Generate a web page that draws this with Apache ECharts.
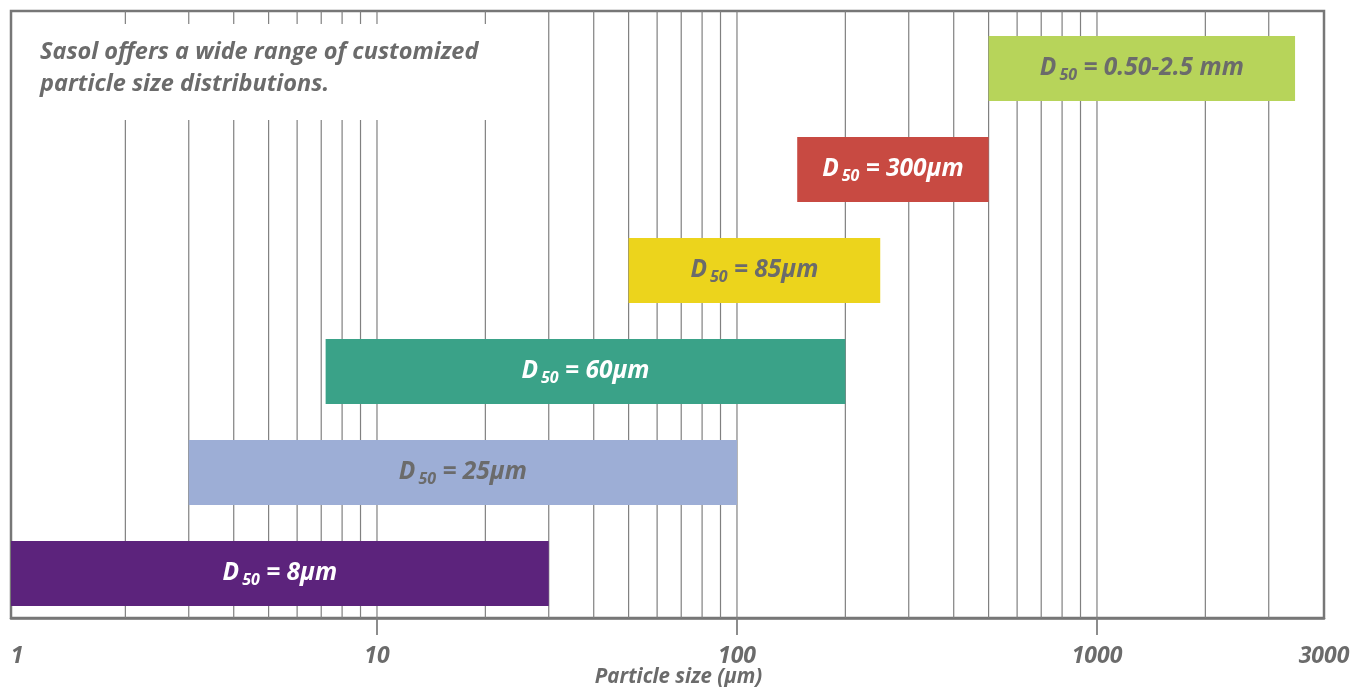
<!DOCTYPE html>
<html><head><meta charset="utf-8">
<script src="https://cdn.jsdelivr.net/npm/echarts@6/dist/echarts.min.js"></script>
<style>html,body{margin:0;padding:0;background:#fff}#c{width:1352px;height:687px}</style>
</head><body><div id="c"></div>
<script>
// ---- data ----
const rangeLabels = ['8µm', '25µm', '60µm', '85µm', '300µm', '0.50-2.5 mm'];
const rangeStart = [0.9624, 3, 7.2, 50, 147, 500];
const rangeEnd = [30, 100, 200, 250, 500, 3550];
const gridValues = [2,3,4,5,6,7,8,9,10,20,30,40,50,60,70,80,90,100,200,300,400,500,600,700,800,900,1000,2000,3000];
const tickValues = [10, 100, 1000];
const labelValues = [1, 10, 100, 1000, 4272];
const labelTexts = ['1', '10', '100', '1000', '3000'];
const titleText = 'Sasol offers a wide range of customized\nparticle size distributions.';
const axisTitle = 'Particle size (µm)';

// ---- styles ----
const barColors = ['#5C237C', '#9DAED6', '#3AA288', '#ECD41C', '#C84A42', '#B7D45A'];
const textColors = ['#ffffff', '#6b6b6b', '#ffffff', '#6b6b6b', '#ffffff', '#6b6b6b'];
const X_MIN = 0.9624, X_MAX = 4272;
const Y_MIN = -0.4406, Y_MAX = 5.569;
const FONT = 'Open Sans';
const GREY = '#6b6b6b';

const chart = echarts.init(document.getElementById('c'));

function richFor(color) {
  const base = { fontFamily: FONT, fontWeight: 'bold', fontStyle: 'italic', fill: color };
  return {
    d: Object.assign({}, base, { fontSize: 24.5 }),
    s: Object.assign({}, base, { fontSize: 16, padding: [13, 0, 0, 3] }),
    t: Object.assign({}, base, { fontSize: 24.5 })
  };
}

const option = {
  animation: false,
  backgroundColor: '#fff',
  title: {
    text: titleText,
    left: 40, top: 36, padding: 0, z: 20,
    textStyle: { fontFamily: FONT, fontSize: 23.5, fontWeight: 'bold', fontStyle: 'italic', color: GREY, lineHeight: 32 }
  },
  graphic: [{
    type: 'rect', left: 13, top: 24, z: 10,
    shape: { width: 505, height: 96 },
    style: { fill: '#ffffff' }
  }],
  grid: {
    left: 11, right: 28, top: 11, bottom: 69,
    outerBoundsMode: 'none', containLabel: false,
    show: true, borderColor: '#777777', borderWidth: 2.5, backgroundColor: 'transparent'
  },
  xAxis: {
    type: 'log', logBase: 10, min: X_MIN, max: X_MAX,
    splitLine: { show: false },
    axisLine: { show: true, onZero: false, lineStyle: { color: '#777777', width: 2.5 } },
    axisTick: { show: true, customValues: tickValues, length: 17, inside: false, lineStyle: { color: '#808080', width: 1.8 } },
    axisLabel: {
      margin: 27,
      fontFamily: FONT, fontSize: 23, fontWeight: 'bold', fontStyle: 'italic', color: GREY,
      formatter: function (v) {
        let best = 0, bd = Infinity;
        labelValues.forEach(function (lv, i) { const d = Math.abs(Math.log10(v) - Math.log10(lv)); if (d < bd) { bd = d; best = i; } });
        return bd < 0.01 ? labelTexts[best] : '';
      }
    },
    name: axisTitle, nameLocation: 'middle', nameGap: 49, nameMoveOverlap: false,
    nameTextStyle: { fontFamily: FONT, fontSize: 20.5, fontWeight: 'bold', fontStyle: 'italic', color: GREY, padding: [0, 0, 0, 22] }
  },
  yAxis: { type: 'value', min: Y_MIN, max: Y_MAX, show: false, splitLine: { show: false } },
  series: [
    {
      type: 'custom', z: 1, silent: true,
      data: gridValues.map(function (v) { return [v, 0]; }),
      encode: { x: 0, y: 1 },
      renderItem: function (params, api) {
        const v = api.value(0);
        const a = api.coord([v, Y_MAX]);
        const b = api.coord([v, Y_MIN]);
        return { type: 'line', shape: { x1: a[0], y1: a[1], x2: b[0], y2: b[1] }, style: { stroke: '#808080', lineWidth: 1.2 } };
      }
    },
    {
      type: 'custom', z: 5, silent: true,
      data: rangeStart.map(function (s, i) { return [s, rangeEnd[i], i]; }),
      encode: { x: [0, 1], y: 2 },
      renderItem: function (params, api) {
        const i = params.dataIndex;
        const row = api.value(2);
        const p0 = api.coord([api.value(0), row + 0.322]);
        const p1 = api.coord([api.value(1), row - 0.322]);
        return {
          type: 'rect',
          shape: { x: p0[0], y: p0[1], width: p1[0] - p0[0], height: p1[1] - p0[1] },
          style: { fill: barColors[i] },
          textContent: {
            style: {
              text: '{d|D}{s|50}{t| = ' + rangeLabels[i] + '}',
              rich: richFor(textColors[i]),
              fill: textColors[i], align: 'center', verticalAlign: 'middle'
            }
          },
          textConfig: { position: 'inside' }
        };
      }
    }
  ]
};
chart.setOption(option);
</script>
</body></html>
